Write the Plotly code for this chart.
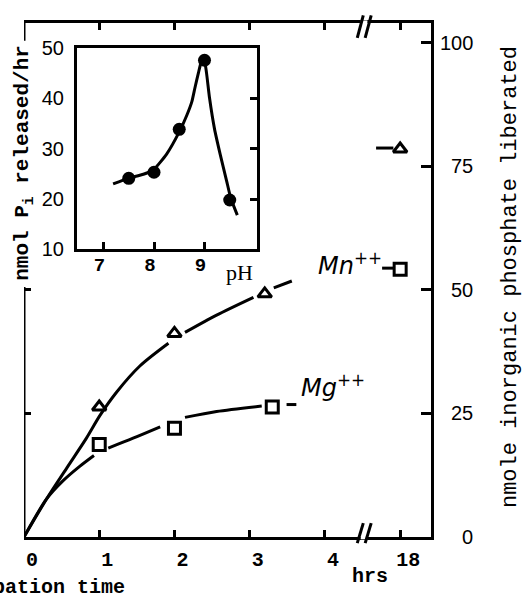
import plotly.graph_objects as go

# ---- data -------------------------------------------------------------
# inset: activity vs pH
ph_points = [7.5, 8.0, 8.5, 9.0, 9.5]
rate_points = [24.1, 25.3, 33.8, 47.5, 19.8]
ph_curve = [7.19, 7.49, 7.79, 7.99, 8.25, 8.50, 8.65, 8.75, 8.81, 8.88, 8.94, 8.99,
            9.04, 9.10, 9.20, 9.31, 9.44, 9.52, 9.65]
rate_curve = [23.0, 24.1, 24.9, 25.8, 28.9, 33.3, 36.6, 39.3, 42.0, 45.0, 47.3, 47.9,
              45.0, 40.0, 33.8, 28.9, 23.5, 20.2, 16.8]
ph_ticks = [7, 8, 9]
rate_ticks = [10, 20, 30, 40, 50]

# main: phosphate liberated vs incubation time (hrs)
mn_hours = [1, 2, 3.2, 18]
mn_values = [26.3, 41.2, 49.2, 78.5]
mg_hours = [1, 2, 3.3, 18]
mg_values = [18.7, 22.0, 26.3, 54.2]

mn_fit_hours = [0, 0.30, 0.57, 0.83, 1.01, 1.23, 1.54, 1.92, None, 2.14, 2.56, 3.05, None, 3.32, 3.56]
mn_fit_values = [0, 7.7, 14.0, 20.0, 24.6, 29.3, 34.6, 39.2, None, 41.4, 44.9, 48.5, None, 50.4, 51.8]
mg_fit_hours = [0, 0.30, 0.52, 0.74, 0.93, None, 1.12, 1.45, 1.81, None, 2.14, 2.56, 3.16, None, 3.49, 3.62]
mg_fit_values = [0, 7.7, 11.4, 14.3, 16.5, None, 18.0, 20.0, 22.3, None, 24.2, 25.4, 26.5, None, 26.8, 26.8]

time_ticks = [0, 1, 2, 3, 4, 18]
amount_ticks = [0, 25, 50, 75, 100]

# ---- geometry -----------------------------------------------------------
W, H = 524, 595
ML, MR, MT, MB = 24, 93, 15, 58
PW, PH = W - ML - MR, H - MT - MB
BREAK = 4.5          # axis break between 4 h and 18 h
X_MAX = 5.41


def axis_pos(h):
    """Position on the broken time axis."""
    if h is None:
        return None
    return h if h <= BREAK else 5.0 + (h - 18) * 0.05


def px(x):
    return (x - ML) / PW


def py(y):
    return (H - MB - y) / PH


MONO = "Liberation Mono"
SANS = "Liberation Sans"
SERIF = "Liberation Serif"
BLACK = "black"

fig = go.Figure()

# fitted curves
for hrs, vals in ((mn_fit_hours, mn_fit_values), (mg_fit_hours, mg_fit_values)):
    fig.add_trace(go.Scatter(
        x=[axis_pos(h) for h in hrs], y=vals, mode="lines",
        line=dict(color=BLACK, width=3, shape="spline", smoothing=0.8),
        connectgaps=False, showlegend=False, hoverinfo="skip"))

# short leaders in front of the 18 h points
for hrs, vals, off in ((mn_hours, mn_values, 0.32), (mg_hours, mg_values, 0.24)):
    x18 = axis_pos(hrs[-1])
    fig.add_trace(go.Scatter(
        x=[x18 - off, x18 - 0.09], y=[vals[-1] + 0.2, vals[-1] + 0.2], mode="lines",
        line=dict(color=BLACK, width=3), showlegend=False, hoverinfo="skip"))

# data points
fig.add_trace(go.Scatter(
    x=[axis_pos(h) for h in mn_hours], y=mn_values, mode="markers",
    marker=dict(symbol="triangle-up-open", size=12, color=BLACK, line=dict(width=3, color=BLACK)),
    name="Mn++", showlegend=False))
fig.add_trace(go.Scatter(
    x=[axis_pos(h) for h in mg_hours], y=mg_values, mode="markers",
    marker=dict(symbol="square-open", size=12, color=BLACK, line=dict(width=3, color=BLACK)),
    name="Mg++", showlegend=False))

# helper traces so the overlay axes are drawn
fig.add_trace(go.Scatter(x=[None], y=[None], xaxis="x3", yaxis="y", showlegend=False))
fig.add_trace(go.Scatter(x=[None], y=[None], xaxis="x", yaxis="y3", showlegend=False))

# inset
fig.add_trace(go.Scatter(
    x=ph_curve, y=rate_curve, mode="lines", xaxis="x2", yaxis="y2",
    line=dict(color=BLACK, width=3, shape="spline", smoothing=0.5),
    showlegend=False, hoverinfo="skip"))
fig.add_trace(go.Scatter(
    x=ph_points, y=rate_points, mode="markers", xaxis="x2", yaxis="y2",
    marker=dict(symbol="circle", size=13, color=BLACK), showlegend=False))
fig.add_trace(go.Scatter(x=[None], y=[None], xaxis="x2", yaxis="y4", showlegend=False))

tick_common = dict(ticks="inside", tickcolor=BLACK, tickwidth=2.5, showgrid=False,
                   zeroline=False, linecolor=BLACK)

fig.update_layout(
    width=W, height=H,
    margin=dict(l=ML, r=MR, t=MT, b=MB),
    paper_bgcolor="white", plot_bgcolor="white",
    xaxis=dict(domain=[0, 1], anchor="y", range=[0, X_MAX],
               tickvals=[axis_pos(t) for t in time_ticks],
               ticktext=[str(t) for t in time_ticks],
               ticklen=7, showline=True, linewidth=3,
               tickfont=dict(family=MONO, size=20, color=BLACK, weight="bold"),
               ticklabelshift=8, ticklabelstandoff=2, **tick_common),
    xaxis3=dict(overlaying="x", side="top", anchor="y", range=[0, X_MAX],
                tickvals=[axis_pos(t) for t in time_ticks[1:]],
                ticklen=7, showline=True, linewidth=3, showticklabels=False,
                **tick_common),
    yaxis=dict(domain=[0, 1], anchor="x", side="right", range=[0, 104],
               tickvals=amount_ticks, ticklen=10, showline=True, linewidth=3,
               showticklabels=False, **tick_common),
    yaxis3=dict(overlaying="y", side="left", anchor="x", range=[0, 104],
                tickvals=[25, 50], ticklen=7, showline=False, showticklabels=False,
                **tick_common),
    xaxis2=dict(domain=[px(77), px(257)], anchor="y2", range=[6.475, 10.04],
                tickvals=ph_ticks, ticklen=7, showline=True, mirror=True, linewidth=3,
                tickfont=dict(family=MONO, size=19, color=BLACK, weight="bold"),
                ticklabelshift=-4, ticklabelstandoff=-4, **tick_common),
    yaxis2=dict(domain=[py(245), py(40)], anchor="x2", range=[10, 50],
                tickvals=rate_ticks, showline=True, mirror=True, linewidth=3,
                tickfont=dict(family=SANS, size=20, color=BLACK),
                ticklabelstandoff=6, showgrid=False, zeroline=False, linecolor=BLACK,
                ticks=""),
    yaxis4=dict(overlaying="y2", side="right", anchor="x2", range=[10, 50],
                tickvals=[20, 30, 40], ticklen=7, showline=False, showticklabels=False,
                **tick_common),
)

shapes = []
# left frame: lower part and the top corner
for y0, y1 in ((0, 50.6), (100.4, 104)):
    shapes.append(dict(type="line", xref="x", yref="y", x0=0, x1=0, y0=y0, y1=y1,
                       line=dict(color=BLACK, width=3), layer="above"))
# axis break marks on bottom and top edges
for yb, yt in ((-0.012, 0.027), (0.971, 1.015)):
    ymid = (yb + yt) / 2
    shapes.append(dict(type="rect", xref="x", yref="paper", x0=4.475, x1=4.565,
                       y0=ymid - 0.012, y1=ymid + 0.012, fillcolor="white",
                       line=dict(width=0), layer="above"))
    for xs in (4.43, 4.535):
        shapes.append(dict(type="line", xref="x", yref="paper", x0=xs, x1=xs + 0.08,
                           y0=yb, y1=yt, line=dict(color=BLACK, width=3), layer="above"))
fig.update_layout(shapes=shapes)

ann = []
# right axis tick labels, right-aligned
for v in amount_ticks:
    ann.append(dict(x=px(475), y=v, xref="paper", yref="y", text=str(v), showarrow=False,
                    xanchor="right", yanchor="middle",
                    font=dict(family=SANS, size=20, color=BLACK)))


def label(x, y, text, font, angle=0, xanchor="center"):
    return dict(x=px(x), y=py(y), xref="paper", yref="paper", text=text,
                textangle=angle, showarrow=False, xanchor=xanchor, yanchor="middle",
                font=font)


ann += [
    label(510, 273, "nmole inorganic phosphate liberated",
          dict(family=MONO, size=22, color=BLACK), angle=-90),
    label(24, 157, "nmol P<sub>i</sub> released/hr",
          dict(family=MONO, size=21, color=BLACK, weight="bold"), angle=-90),
    label(240, 268, "pH", dict(family=SERIF, size=22, color=BLACK)),
    label(370, 577, "hrs", dict(family=MONO, size=20, color=BLACK, weight="bold")),
    label(127, 588, "Incubation time", dict(family=MONO, size=20, color=BLACK, weight="bold"),
          xanchor="right"),
    label(350, 260, "<i>Mn<sup>++</sup></i>", dict(family="DejaVu Sans", size=24, color=BLACK)),
    label(333, 384, "<i>Mg<sup>++</sup></i>", dict(family="DejaVu Sans", size=24, color=BLACK)),
]
fig.update_layout(annotations=ann)

fig.write_html("out.html")
